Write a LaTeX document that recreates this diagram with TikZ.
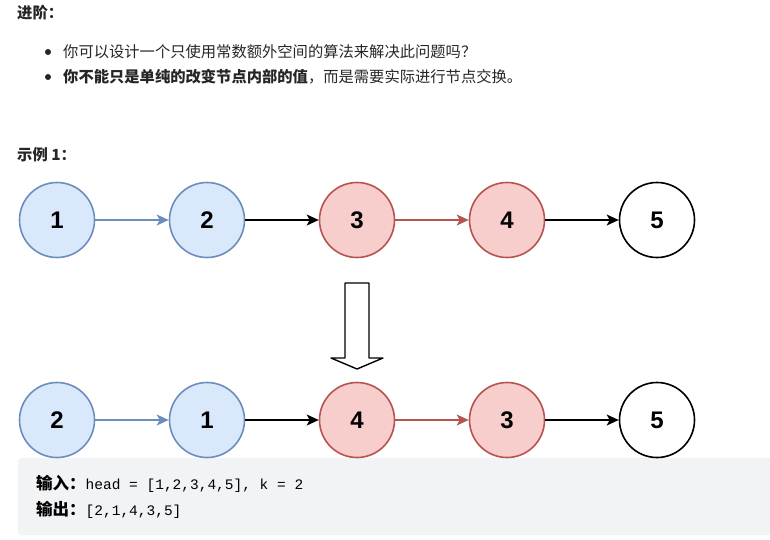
\documentclass[tikz,border=0pt]{standalone}
\usepackage{fontspec}
\setmainfont{Liberation Sans}
\setmonofont{Liberation Mono}
\newfontfamily\cjk{Noto Sans CJK SC}
\usetikzlibrary{arrows.meta, positioning, calc}
\definecolor{blueFill}{HTML}{DAE8FC}
\definecolor{blueLine}{HTML}{6C8EBF}
\definecolor{redFill}{HTML}{F8CECC}
\definecolor{redLine}{HTML}{B85450}
\definecolor{codeBg}{HTML}{F2F3F5}
\definecolor{txt}{HTML}{262626}

\begin{document}
\begin{tikzpicture}[x=1pt, y=-1pt,
    lnode/.style={circle, draw, line width=1.6pt, minimum size=75pt, inner sep=0pt,
                  font=\bfseries\fontsize{24}{24}\selectfont},
    bnode/.style={lnode, draw=blueLine, fill=blueFill},
    rnode/.style={lnode, draw=redLine, fill=redFill},
    wnode/.style={lnode, draw=black, fill=white},
    link/.style={-{Stealth[length=12pt, width=11pt, inset=3pt]}, line width=1.8pt, black},
    txtline/.style={anchor=west, inner sep=0pt, text=txt, font=\cjk\fontsize{15.3}{15.3}\selectfont},
    codeline/.style={anchor=west, inner sep=0pt, text=black, font=\fontsize{14.5}{14.5}\selectfont},
]
\useasboundingbox (0,0) rectangle (770,539);

% ===== 文字说明 =====
\node[txtline] (adv) at (17,13) {\bfseries 进阶：};
\fill[txt] (48,52) circle (3);
\node[txtline] (tip1) at (63,52) {你可以设计一个只使用常数额外空间的算法来解决此问题吗？};
\fill[txt] (48,77) circle (3);
\node[txtline] (tip2) at (63,77) {\bfseries 你不能只是单纯的改变节点内部的值\mdseries ，而是需要实际进行节点交换。};
\node[txtline] (ex1) at (17,155) {\bfseries 示例 1：};

% ===== 原链表 =====
\node[bnode] (a1) at (57,220)  {1};
\node[bnode] (a2) at (207,220) {2};
\node[rnode] (a3) at (357,220) {3};
\node[rnode] (a4) at (507,220) {4};
\node[wnode] (a5) at (657,220) {5};

\draw[link, blueLine, line width=1.3pt] (a1) -- (a2);
\draw[link] (a2) -- (a3);
\draw[link, redLine, line width=1.3pt] (a3) -- (a4);
\draw[link] (a4) -- (a5);

% ===== 空心箭头 =====
\coordinate (tip) at (357,369);
\draw[line width=1.4pt, line join=round, fill=white]
    ($(tip)+(-12,-86)$) -- ($(tip)+(12,-86)$) -- ($(tip)+(12,-11)$) -- ($(tip)+(26,-11)$)
    -- (tip) -- ($(tip)+(-26,-11)$) -- ($(tip)+(-12,-11)$) -- cycle;

% ===== 输入输出 =====
\fill[codeBg, rounded corners=3pt] (18,458) rectangle (775,535);
\node[codeline] (inp) at (36,484) {{\cjk\bfseries\fontsize{16.5}{16.5}\selectfont 输入：}\ttfamily head = [1,2,3,4,5], k = 2};
\node[codeline] (outp) at (36,510) {{\cjk\bfseries\fontsize{16.5}{16.5}\selectfont 输出：}\ttfamily [2,1,4,3,5]};

% ===== 交换后 =====
\node[bnode] (b1) at (57,420)  {2};
\node[bnode] (b2) at (207,420) {1};
\node[rnode] (b3) at (357,420) {4};
\node[rnode] (b4) at (507,420) {3};
\node[wnode] (b5) at (657,420) {5};

\draw[link, blueLine, line width=1.3pt] (b1) -- (b2);
\draw[link] (b2) -- (b3);
\draw[link, redLine, line width=1.3pt] (b3) -- (b4);
\draw[link] (b4) -- (b5);
\end{tikzpicture}
\end{document}
